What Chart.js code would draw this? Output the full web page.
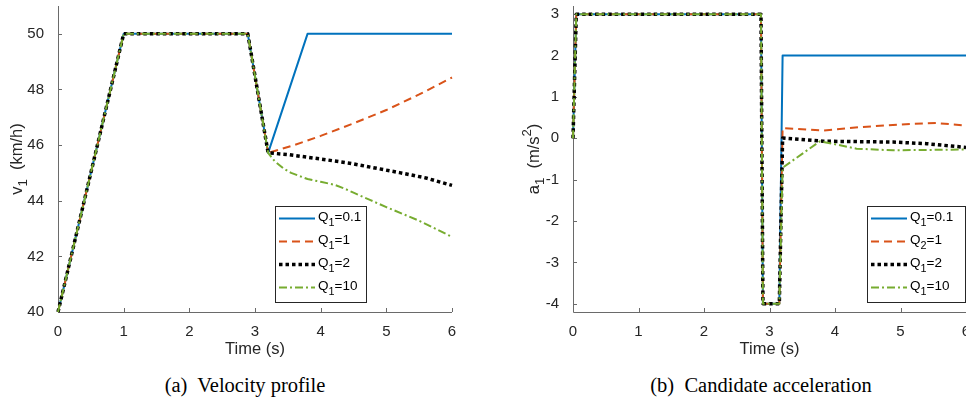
<!DOCTYPE html>
<html>
<head>
<meta charset="utf-8">
<script src="https://cdn.jsdelivr.net/npm/chart.js@4.4.0/dist/chart.umd.min.js"></script>
<style>
  body { margin: 0; background: #fff; }
  .panel { position: absolute; top: 0; width: 483px; height: 370px; }
  .cap { position: absolute; top: 372px; width: 300px; text-align: center;
         font-family: "Liberation Serif", "Times New Roman", serif; font-size: 20.5px; line-height: 26px; color: #000; }
</style>
</head>
<body>
<div class="panel" style="left:0"><canvas id="vel" width="483" height="370"></canvas></div>
<div class="panel" style="left:483px"><canvas id="acc" width="483" height="370"></canvas></div>
<div class="cap" style="left:95px">(a)&nbsp; Velocity profile</div>
<div class="cap" style="left:611px">(b)&nbsp; Candidate acceleration</div>
<script>
const xTicks = [0, 1, 2, 3, 4, 5, 6];
const velTicks = [40, 42, 44, 46, 48, 50];
const accTicks = [-4, -3, -2, -1, 0, 1, 2, 3];
const velLabels = ['Q_1=0.1', 'Q_1=1', 'Q_1=2', 'Q_1=10'];
const accLabels = ['Q_1=0.1', 'Q_2=1', 'Q_1=2', 'Q_1=10'];

// velocity v1 (km/h)
const velT01 = [0, 1, 2.89, 3.2, 3.8, 6];
const velQ01 = [40, 50, 50, 45.72, 50, 50];
const velT1 = [0, 1, 2.89, 3.2, 3.6, 4.0, 4.5, 5.0, 5.5, 6];
const velQ1 = [40, 50, 50, 45.72, 46.0, 46.33, 46.78, 47.26, 47.82, 48.43];
const velT2 = [0, 1, 2.89, 3.2, 3.5, 4.0, 4.44, 5.2, 5.6, 6];
const velQ2 = [40, 50, 50, 45.72, 45.66, 45.5, 45.35, 45.01, 44.82, 44.55];
const velT10 = [0, 1, 2.89, 3.2, 3.3, 3.43, 3.55, 3.8, 4.0, 4.2, 4.35, 4.5, 4.75, 5.0, 5.5, 6];
const velQ10 = [40, 50, 50, 45.72, 45.42, 45.17, 45.0, 44.78, 44.68, 44.58, 44.45, 44.29, 44.03, 43.77, 43.28, 42.7];

// acceleration a1 (m/s^2)
const accT01 = [0, 0.05, 2.87, 2.9, 3.15, 3.2, 6];
const accQ01 = [0, 3, 3, -4, -4, 2, 2];
const accT1 = [0, 0.05, 2.87, 2.9, 3.15, 3.2, 3.82, 4.38, 5.15, 5.55, 6];
const accQ1 = [0, 3, 3, -4, -4, 0.25, 0.19, 0.27, 0.35, 0.37, 0.31];
const accT2 = [0, 0.05, 2.87, 2.9, 3.15, 3.2, 3.82, 4.89, 5.4, 6];
const accQ2 = [0, 3, 3, -4, -4, 0.01, -0.07, -0.09, -0.13, -0.22];
const accT10 = [0, 0.05, 2.87, 2.9, 3.15, 3.2, 3.77, 4.33, 4.89, 6];
const accQ10 = [0, 3, 3, -4, -4, -0.71, -0.07, -0.25, -0.29, -0.27];

const fam = '"Liberation Sans", Arial, Helvetica, sans-serif';
const axisColor = '#262626';

function pts(t, v) { return t.map((x, i) => ({x: x, y: v[i]})); }

// draws text with _x subscripts and ^x superscripts
function richText(ctx, text, x, y, size, align) {
  const segs = [];
  for (let i = 0; i < text.length; i++) {
    const c = text[i];
    if ((c === '_' || c === '^') && i + 1 < text.length) {
      segs.push({t: text[i + 1], k: c});
      i++;
    } else if (segs.length && segs[segs.length - 1].k === '') {
      segs[segs.length - 1].t += c;
    } else {
      segs.push({t: c, k: ''});
    }
  }
  const small = size * 0.8;
  let w = 0;
  segs.forEach(s => {
    ctx.font = (s.k ? small : size) + 'px ' + fam;
    s.w = ctx.measureText(s.t).width;
    w += s.w;
  });
  let cx = align === 'center' ? x - w / 2 : x;
  ctx.textAlign = 'left';
  ctx.textBaseline = 'middle';
  segs.forEach(s => {
    ctx.font = (s.k ? small : size) + 'px ' + fam;
    const dy = s.k === '_' ? size * 0.38 : (s.k === '^' ? -size * 0.38 : 0);
    ctx.fillText(s.t, cx, y + dy);
    cx += s.w;
  });
}

const matlabAxes = {
  id: 'matlabAxes',
  beforeDatasetsDraw(chart, args, opts) {
    const {ctx, chartArea: a, scales: {x, y}} = chart;
    ctx.save();
    ctx.strokeStyle = '#6a6a6a';
    ctx.lineWidth = 1;
    ctx.beginPath();
    ctx.moveTo(a.left + 0.5, a.top);
    ctx.lineTo(a.left + 0.5, a.bottom + 0.5);
    ctx.lineTo(a.right, a.bottom + 0.5);
    x.ticks.forEach(t => {
      const px = Math.round(x.getPixelForValue(t.value)) + 0.5;
      ctx.moveTo(px, a.bottom);
      ctx.lineTo(px, a.bottom - 4);
    });
    y.ticks.forEach(t => {
      const py = Math.round(y.getPixelForValue(t.value)) + 0.5;
      ctx.moveTo(a.left, py);
      ctx.lineTo(a.left + 4, py);
    });
    ctx.stroke();
    ctx.fillStyle = axisColor;
    richText(ctx, opts.xTitle, (a.left + a.right) / 2, opts.xTitleY, 16.5, 'center');
    ctx.translate(opts.yTitleX, (a.top + a.bottom) / 2);
    ctx.rotate(-Math.PI / 2);
    richText(ctx, opts.yTitle, 0, 0, 16.5, 'center');
    ctx.restore();
  },
  afterDraw(chart, args, opts) {
    const {ctx, chartArea: a} = chart;
    const lg = opts.legend;
    const bx = a.left + lg.left, by = a.top + lg.top;
    ctx.save();
    ctx.fillStyle = '#fff';
    ctx.fillRect(bx, by, lg.w, lg.h);
    ctx.strokeStyle = '#262626';
    ctx.lineWidth = 1;
    ctx.strokeRect(bx + 0.5, by + 0.5, lg.w, lg.h);
    chart.data.datasets.forEach((ds, i) => {
      const cy = by + 12.5 + i * 23;
      ctx.strokeStyle = ds.borderColor;
      ctx.lineWidth = ds.borderWidth;
      ctx.setLineDash(ds.borderDash || []);
      ctx.beginPath();
      ctx.moveTo(bx + 4, cy);
      ctx.lineTo(bx + 40, cy);
      ctx.stroke();
      ctx.setLineDash([]);
      ctx.fillStyle = '#000';
      richText(ctx, ds.label, bx + 43, cy - 1, 13.5, 'left');
    });
    ctx.restore();
  }
};

function makeDatasets(labels, series) {
  const styles = [
    {borderColor: '#0072BD', borderWidth: 2, borderDash: [], order: 4},
    {borderColor: '#D95319', borderWidth: 2, borderDash: [8, 5], order: 3},
    {borderColor: '#000000', borderWidth: 3.5, borderDash: [3.5, 3], order: 2},
    {borderColor: '#77AC30', borderWidth: 2, borderDash: [8, 3, 2, 3], order: 1}
  ];
  return series.map((s, i) => Object.assign({
    label: labels[i],
    data: s,
    pointRadius: 0,
    tension: 0,
    fill: false,
    clip: false,
    borderJoinStyle: 'round'
  }, styles[i]));
}

function makeChart(id, datasets, yMin, yMax, yTicks, yWidth, padRight, pluginOpts) {
  return new Chart(document.getElementById(id), {
    type: 'line',
    data: {datasets: datasets},
    plugins: [matlabAxes],
    options: {
      responsive: false,
      animation: false,
      events: [],
      layout: {padding: {left: 0, right: padRight, top: 6, bottom: 0}},
      plugins: {legend: {display: false}, tooltip: {enabled: false}, matlabAxes: pluginOpts},
      scales: {
        x: {
          type: 'linear', min: 0, max: 6,
          grid: {display: false}, border: {display: false},
          afterBuildTicks: s => { s.ticks = xTicks.map(v => ({value: v})); },
          ticks: {font: {family: fam, size: 15}, color: axisColor, padding: 3,
                  maxRotation: 0, autoSkip: false, callback: v => String(v)},
          afterFit: s => { s.height = 58; s.paddingLeft = 0; s.paddingRight = 0; }
        },
        y: {
          type: 'linear', min: yMin, max: yMax,
          grid: {display: false}, border: {display: false},
          afterBuildTicks: s => { s.ticks = yTicks.map(v => ({value: v})); },
          ticks: {font: {family: fam, size: 15}, color: axisColor, padding: 6,
                  autoSkip: false, callback: v => String(v)},
          afterFit: s => { s.width = yWidth; s.paddingTop = 0; s.paddingBottom = 0; }
        }
      }
    }
  });
}

makeChart('vel', makeDatasets(velLabels, [
  pts(velT01, velQ01), pts(velT1, velQ1), pts(velT2, velQ2), pts(velT10, velQ10)
]), 40, 51, velTicks, 58, 31, {
  xTitle: 'Time (s)', xTitleY: 349, yTitle: 'v_1  (km/h)', yTitleX: 17,
  legend: {left: 217, top: 200, w: 91, h: 96}
});

makeChart('acc', makeDatasets(accLabels, [
  pts(accT01, accQ01), pts(accT1, accQ1), pts(accT2, accQ2), pts(accT10, accQ10)
]), -4.2, 3.2, accTicks, 90, 0, {
  xTitle: 'Time (s)', xTitleY: 349, yTitle: 'a_1  (m/s^2)', yTitleX: 51,
  legend: {left: 294, top: 200, w: 98, h: 96}
});
</script>
</body>
</html>
